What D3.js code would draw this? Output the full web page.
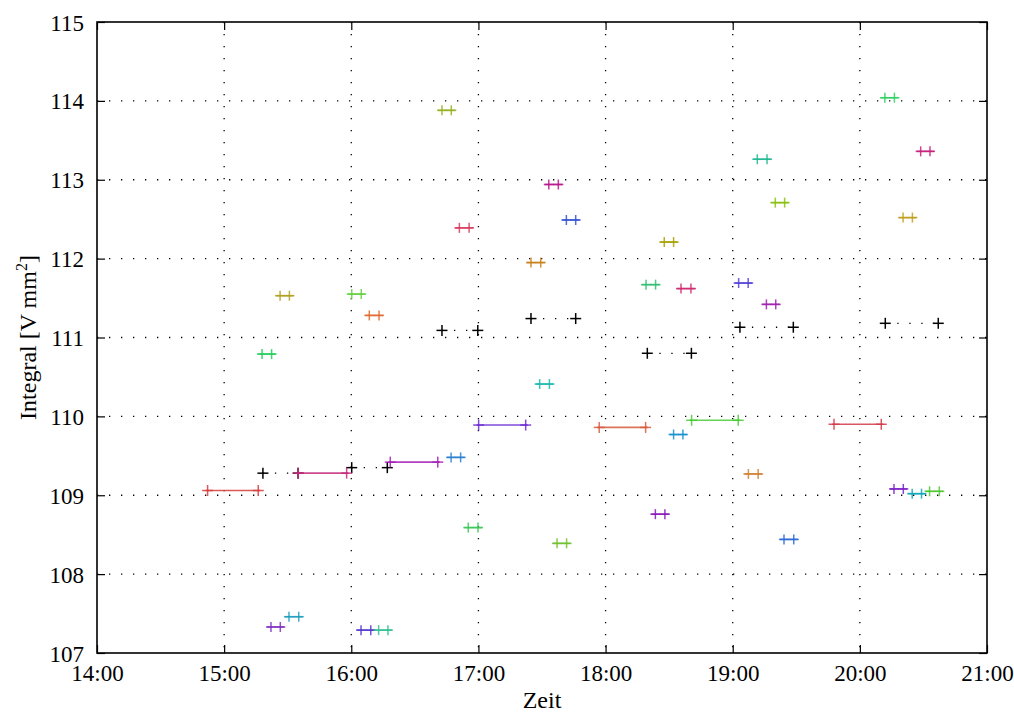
<!DOCTYPE html>
<html><head><meta charset="utf-8">
<script src="https://cdn.jsdelivr.net/npm/d3@7"></script>
<style>body{margin:0;background:#fff}svg{display:block}text{font-family:"Liberation Serif","DejaVu Serif",serif;fill:#000}</style>
</head><body><svg id="c" width="1014" height="714"></svg>
<script>
// ---- data ----
const xTickLabels = ["14:00","15:00","16:00","17:00","18:00","19:00","20:00","21:00"];
const yTicks = [107,108,109,110,111,112,113,114,115];

// black dotted pairs
const blackStart = ["15:18.3","16:00.2","16:42.8","17:24.8","18:19.7","19:03.4","20:12.0"];
const blackEnd   = ["15:34.9","16:17.0","16:59.7","17:45.9","18:40.5","19:28.6","20:37.0"];
const blackVal   = [109.28,109.35,111.09,111.24,110.80,111.13,111.18];

// long coloured segments
const longStart = ["14:52.2","15:35.0","16:18.4","17:00.1","17:57.0","18:40.6","19:47.8"];
const longEnd   = ["15:16.1","15:57.8","16:40.8","17:22.3","18:18.9","19:02.6","20:10.1"];
const longVal   = [109.06,109.28,109.42,109.89,109.86,109.95,109.90];
const longColor = ["#d63c3c","#c42a7c","#a41cb6","#6a2ad2","#d85a3e","#46cc34","#d23a4a"];

// short coloured pairs
const shortStart = ["16:42.8","16:51.0","17:33.2","17:41.5","17:24.8","18:27.7","20:11.8","19:11.6","20:28.7","19:20.1","20:20.4","15:26.4","16:00.2","16:08.5","15:17.9","17:28.9","19:15.9","19:02.8","18:19.1","18:35.6","16:47.1","18:32.1","19:07.4","20:16.1","20:24.7","20:32.9","16:55.2","17:37.1","18:23.5","19:24.2","15:22.1","15:30.6","16:04.6","16:12.9"];
const shortEnd   = ["16:47.2","16:55.6","17:37.7","17:45.9","17:29.4","18:32.1","20:16.3","19:16.2","20:33.1","19:24.5","20:24.8","15:30.8","16:04.7","16:13.1","15:22.4","17:33.5","19:20.3","19:07.3","18:23.6","18:40.3","16:51.6","18:36.5","19:12.0","20:20.5","20:29.1","20:37.5","16:59.8","17:41.6","18:28.0","19:28.8","15:26.5","15:35.2","16:09.2","16:17.3"];
const shortVal   = [113.88,112.39,112.94,112.49,111.95,112.21,114.04,113.26,113.36,112.71,112.52,111.53,111.55,111.28,110.79,110.41,111.42,111.69,111.67,111.62,109.48,109.77,109.27,109.08,109.02,109.05,108.59,108.39,108.76,108.44,107.33,107.46,107.29,107.29];
const shortColor = ["#94b020","#d83a5e","#b8168c","#3352d2","#c8801a","#a8a000","#30d060","#20b890","#c8207a","#88c010","#c0a020","#b0a020","#60d040","#e06a30","#22cc5a","#18b8b0","#a020b0","#5040d8","#30c070","#d02a70","#2a80d0","#1890d0","#d08030","#7a20c8","#10a8b8","#50c830","#40c858","#70c030","#8818b8","#2a6ad8","#8030c0","#20a0c0","#5038d0","#30c090"];

// ---- helpers ----
function tp(s){const [h,m]=s.split(":");const d=new Date(2000,0,1,+h,0,0);return new Date(d.getTime()+ (+m)*60000);}

const W=1014,H=714, L=97,R=987,T=22,B=653;
const svg=d3.select("#c");
const x=d3.scaleTime().domain([tp("14:00"),tp("21:00")]).range([L,R]);
const y=d3.scaleLinear().domain([107,115]).range([B,T]);

const xTickVals = xTickLabels.map(tp);

// grid
const grid=svg.append("g");
xTickVals.slice(1,-1).forEach(t=>{
  grid.append("line").attr("x1",x(t)).attr("x2",x(t)).attr("y1",T).attr("y2",B)
   .attr("stroke","#000").attr("stroke-width",1.3).attr("stroke-dasharray","1.3,10.7");
});
yTicks.slice(1,-1).forEach(v=>{
  grid.append("line").attr("x1",L).attr("x2",R).attr("y1",y(v)).attr("y2",y(v))
   .attr("stroke","#000").attr("stroke-width",1.3).attr("stroke-dasharray","1.3,10.7");
});

// plus marker
function plus(g,cx,cy,col,s,sw,op){
  g.append("line").attr("x1",cx-s).attr("x2",cx+s).attr("y1",cy).attr("y2",cy).attr("stroke",col).attr("stroke-width",sw).attr("stroke-opacity",op);
  g.append("line").attr("x1",cx).attr("x2",cx).attr("y1",cy-s).attr("y2",cy+s).attr("stroke",col).attr("stroke-width",sw).attr("stroke-opacity",op);
}

const marks=svg.append("g");
// black dotted pairs
blackStart.forEach((s,i)=>{
  const x1=x(tp(s)),x2=x(tp(blackEnd[i])),yy=y(blackVal[i]);
  marks.append("line").attr("x1",x1).attr("x2",x2).attr("y1",yy).attr("y2",yy)
    .attr("stroke","#000").attr("stroke-width",1.3).attr("stroke-dasharray","1.3,10.7");
  plus(marks,x1,yy,"#000",5.5,1.5,1);
  plus(marks,x2,yy,"#000",5.5,1.5,1);
});
// long segments
longStart.forEach((s,i)=>{
  const x1=x(tp(s)),x2=x(tp(longEnd[i])),yy=y(longVal[i]),c=longColor[i];
  marks.append("line").attr("x1",x1-2).attr("x2",x2+2).attr("y1",yy).attr("y2",yy)
    .attr("stroke",c).attr("stroke-width",1.6).attr("stroke-opacity",0.85);
  plus(marks,x1,yy,c,5.5,1.5,0.85);
  plus(marks,x2,yy,c,5.5,1.5,0.85);
});
// short pairs
shortStart.forEach((s,i)=>{
  const x1=x(tp(s)),x2=x(tp(shortEnd[i])),yy=y(shortVal[i]),c=shortColor[i];
  marks.append("line").attr("x1",x1-4).attr("x2",x2+4).attr("y1",yy).attr("y2",yy)
    .attr("stroke",c).attr("stroke-width",1.6).attr("stroke-opacity",0.85);
  plus(marks,x1,yy,c,5,1.5,0.85);
  plus(marks,x2,yy,c,5,1.5,0.85);
});

// axes with inward ticks
const xAxisB=d3.axisBottom(x).tickValues(xTickVals).tickFormat((d,i)=>xTickLabels[i]).tickSizeInner(-8).tickSizeOuter(0).tickPadding(14);
const gB=svg.append("g").attr("transform",`translate(0,${B})`).call(xAxisB);
const gT=svg.append("g").attr("transform",`translate(0,${T})`).call(d3.axisTop(x).tickValues(xTickVals).tickFormat("").tickSizeInner(-8).tickSizeOuter(0));
const gL=svg.append("g").attr("transform",`translate(${L},0)`).call(d3.axisLeft(y).tickValues(yTicks).tickFormat(d3.format("d")).tickSizeInner(-8).tickSizeOuter(0).tickPadding(13));
const gR=svg.append("g").attr("transform",`translate(${R},0)`).call(d3.axisRight(y).tickValues(yTicks).tickFormat("").tickSizeInner(-8).tickSizeOuter(0));
[gB,gT,gL,gR].forEach(g=>{
  g.select(".domain").remove();
  g.selectAll(".tick line").attr("stroke","#000").attr("stroke-width",1.2);
  g.selectAll("text").attr("font-size",23).attr("font-family",'"Liberation Serif",serif').attr("fill","#000");
});
gL.selectAll("text").attr("dy","0.35em");
gB.selectAll("text").attr("dy","0.62em");
// frame
svg.append("rect").attr("x",L).attr("y",T).attr("width",R-L).attr("height",B-T)
  .attr("fill","none").attr("stroke","#000").attr("stroke-width",1.6);

// axis labels
svg.append("text").attr("x",(L+R)/2).attr("y",708).attr("text-anchor","middle").attr("font-size",24).text("Zeit");
const yl=svg.append("text").attr("transform",`translate(36,${(T+B)/2}) rotate(-90)`).attr("text-anchor","middle").attr("font-size",24);
yl.append("tspan").text("Integral [V mm");
yl.append("tspan").attr("dy",-9).attr("font-size",16).text("2");
yl.append("tspan").attr("dy",9).text("]");
</script></body></html>
